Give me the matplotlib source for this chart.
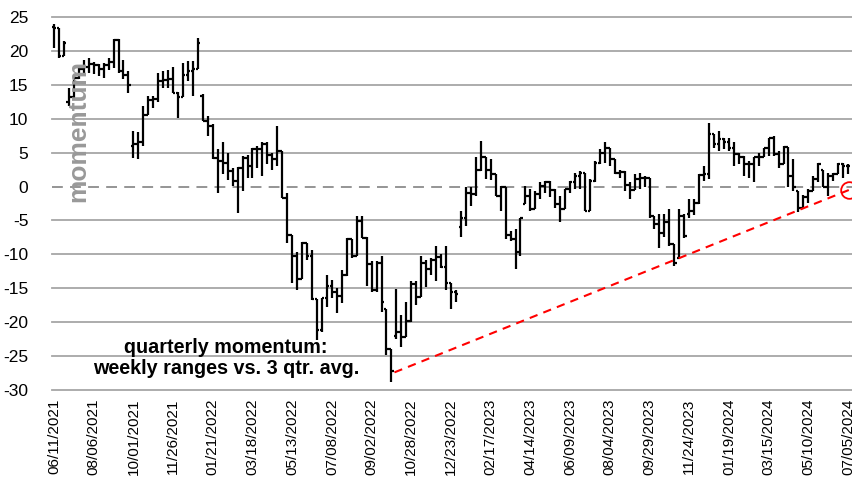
import matplotlib
matplotlib.use("Agg")
import matplotlib.pyplot as plt
import numpy as np
import pandas as pd

# weekly OHLC of quarterly momentum (from 06/11/2021)
open_ = [23.5, 23.4, 19.3, 12.5, 13.2, 16.0, 17.3, 17.7, 18.0, 17.9, 17.4, 17.9, 18.3, 21.6, 17.0, 16.4,
         6.0, 6.2, 6.5, 10.6, 12.8, 12.9, 15.5, 15.7, 15.8, 13.8, 13.2, 16.5, 17.0, 17.3,
         13.3, 9.6, 8.9, 4.2, 3.7, 3.5, 2.3, 0.8, 2.7, 4.2, 3.0, 5.6, 5.6, 6.2, 4.7, 4.0, 5.2, -1.7,
         -7.2, -10.2, -13.7, -8.3, -10.3, -16.6, -21.1, -16.5, -14.6, -15.5, -16.2, -13.0, -7.8, -10.3,
         -5.1, -7.6,
         -11.4, -15.3, -11.2, -18.0, -23.9, -22.0, -21.5, -22.2, -19.8, -14.4, -16.3, -11.2, -12.2, -10.9,
         -10.4, -11.9, -14.2, -15.6, -6.0, -4.6, -0.9, -1.1, 2.5, 4.3, 2.5, 1.8, -1.4, -0.1, -7.2, -7.7,
         -9.7, -2.5,
         -1.4, -3.3, -1.1, 0.1, 0.7, -0.5, -2.6, -3.3, -0.4, 0.6, 1.5, 2.0, -3.6, 0.8, 3.5, 5.0, 5.7, 4.0,
         2.0, 2.2, 0.3, -0.5, 1.1, 1.3, 1.3, -4.4, -5.5, -6.8, -5.3, -8.5, -10.5, -4.3, -4.0,
         -3.6, -2.4, 1.7, 1.8, 7.7, 6.2, 7.0, 6.5, 5.7, 4.8, 4.3, 3.3, 3.3, 4.3, 4.3, 5.7, 7.2, 4.8, 3.3,
         5.9, 1.6, -0.6, -3.1, -1.6, -0.6, 1.1, 2.5, 0.0, 1.6, 1.8, 3.3, 3.0]
high = [23.9, 23.4, 21.4, 14.6, 16.5, 17.8, 18.6, 19.0, 18.3, 18.0, 18.2, 18.9, 21.7, 21.7, 18.7, 17.0,
        8.2, 8.0, 11.9, 13.3, 13.4, 16.8, 17.0, 17.2, 17.7, 14.0, 18.2, 18.5, 18.5, 21.9,
        13.6, 10.4, 9.2, 5.5, 6.5, 5.0, 2.8, 2.9, 4.5, 4.6, 5.7, 6.0, 6.6, 6.6, 5.0, 8.9, 5.2, -0.9,
        -7.2, -9.6, -8.2, -8.3, -9.3, -16.6, -16.5, -13.0, -13.8, -15.0, -12.3, -7.6, -7.8, -4.4,
        -4.4, -7.5,
        -11.0, -11.0, -10.2, -18.0, -23.9, -15.1, -19.0, -17.0, -13.9, -14.0, -10.2, -10.8, -10.5, -8.7,
        -10.0, -8.7, -14.2, -15.2, -3.6, -0.1, -0.1, 4.3, 6.7, 4.3, 4.0, 1.8, 0.1, -0.1, -6.5, -6.3,
        -4.6, 0.1,
        -0.4, -0.6, 0.6, 0.8, 0.8, -0.4, -1.4, -0.4, 0.8, 2.0, 2.3, 2.0, 1.1, 3.8, 5.5, 6.5, 5.7, 4.0,
        2.5, 2.3, 0.6, 1.8, 2.0, 1.6, 1.3, -4.3, -4.0, -4.0, -3.3, -8.5, -3.3, -4.0, -1.9,
        -1.9, 1.8, 3.0, 9.4, 7.7, 8.2, 7.2, 7.2, 6.5, 5.0, 4.5, 3.8, 4.3, 5.0, 5.7, 7.2, 7.4, 5.2, 6.0,
        5.9, 4.0, -0.6, -1.3, -0.4, 1.6, 3.5, 2.5, 2.0, 2.0, 3.5, 3.5, 3.3]
low = [20.4, 19.0, 19.2, 11.9, 12.8, 15.8, 16.5, 16.8, 16.6, 16.3, 16.0, 17.2, 17.5, 16.8, 15.8, 13.8,
       4.2, 4.0, 6.0, 10.6, 11.6, 12.5, 14.6, 14.6, 13.8, 10.1, 13.2, 15.5, 13.3, 17.3,
       9.6, 7.4, 4.0, -0.9, 1.8, 1.0, 0.05, -3.9, -0.7, 1.2, 1.3, 2.8, 1.5, 3.3, 2.5, 3.0, -1.7, -8.3,
       -14.2, -15.2, -13.7, -10.8, -16.7, -22.6, -21.4, -17.7, -16.5, -18.7, -17.2, -13.2, -10.5, -10.3,
       -7.6, -14.6,
       -15.6, -15.6, -18.5, -24.9, -28.8, -22.5, -23.7, -22.2, -20.0, -17.5, -16.3, -14.8, -13.0, -13.9,
       -12.0, -15.3, -18.0, -17.0, -7.5, -5.8, -2.8, -1.4, 2.3, 1.1, 0.9, -1.4, -3.6, -7.7, -8.0, -12.2,
       -10.2, -2.6,
       -3.6, -3.3, -1.9, -0.9, -1.6, -3.1, -5.3, -3.3, -0.9, -0.4, -0.4, -3.6, -3.6, 0.6, 3.3, 3.5, 3.0,
       1.8, 1.3, -0.6, -1.9, -0.5, -0.4, -0.1, -4.6, -6.3, -9.0, -7.5, -8.7, -11.7, -10.7, -7.6, -4.6,
       -4.2, -2.6, 0.8, 1.1, 5.7, 5.2, 5.5, 5.3, 3.0, 3.3, 1.6, 1.3, 0.6, 3.0, 4.3, 4.5, 4.5, 2.8, 3.3,
       0.0, -0.6, -3.8, -3.1, -2.4, -0.6, 0.6, 0.0, -1.4, 0.8, 1.8, 1.3, 1.8]
close = [23.4, 19.3, 21.1, 13.2, 16.0, 17.3, 17.7, 18.0, 17.9, 17.4, 17.9, 18.3, 21.6, 17.0, 16.4, 15.0,
         6.2, 6.5, 10.6, 12.8, 12.9, 15.5, 15.7, 15.8, 13.8, 13.2, 16.5, 17.0, 17.3, 21.2,
         9.6, 8.9, 4.2, 3.7, 3.5, 2.3, 0.8, 2.7, 4.2, 3.0, 5.6, 5.6, 6.2, 4.7, 4.0, 5.2, -1.7, -7.2,
         -10.2, -13.7, -8.3, -10.3, -16.6, -21.1, -16.5, -14.6, -15.5, -16.2, -13.0, -7.8, -10.3, -5.1,
         -7.6, -11.4,
         -15.3, -11.2, -17.0, -23.9, -27.2, -21.5, -22.2, -19.8, -14.4, -16.3, -11.2, -12.2, -10.9, -10.4,
         -11.9, -14.2, -15.6, -15.8, -4.6, -0.9, -1.1, 2.5, 4.3, 2.5, 1.8, -1.4, -0.1, -7.2, -7.7, -9.7,
         -4.7, -1.4,
         -3.3, -1.1, 0.1, 0.7, -0.5, -2.6, -3.3, -0.4, 0.6, 1.5, 2.0, -3.6, 0.8, 3.5, 5.0, 5.7, 4.0, 2.0,
         2.2, 0.3, -0.5, 1.1, 1.3, 1.3, -4.4, -5.5, -6.8, -5.3, -8.5, -11.2, -4.3, -7.3, -3.6,
         -2.4, 1.7, 1.8, 7.7, 6.2, 7.0, 6.5, 5.7, 4.8, 4.3, 3.3, 3.3, 4.3, 4.3, 5.7, 7.2, 4.8, 3.3, 5.9,
         1.6, 0.0, -3.1, -1.6, -0.6, 1.1, 3.3, 0.0, 1.6, 1.8, 3.3, 3.0, 3.1]

start_date = "2021-06-11"
label_every = 8

# trend line (week index, value)
trend_x = [68.6, 160.2]
trend_y = [-27.4, -0.5]

n = len(close)
dates = pd.date_range(start_date, periods=n, freq="7D")
x = np.arange(n)

fig = plt.figure(figsize=(8.52, 4.8), dpi=100)
ax = fig.add_axes([52 / 852, 90 / 480, 800 / 852, 373 / 480])

ax.set_xlim(-0.4, 160.8)
ax.set_ylim(-30, 25)

grid_c = "#a6a6a6"
for v in range(-30, 26, 5):
    if v == 0:
        ax.axhline(v, color="#8c8c8c", lw=1.3, ls=(0, (6, 4)), zorder=1, clip_on=False)
    else:
        ax.axhline(v, color=grid_c, lw=1.3, zorder=1, clip_on=False)

lw = 1.6
ax.vlines(x, low, high, color="black", lw=lw, zorder=3)
ax.hlines(open_, x - 0.48, x, color="black", lw=lw, zorder=3)
ax.hlines(close, x, x + 0.48, color="black", lw=lw, zorder=3)

ax.plot(trend_x, trend_y, color="#ff0000", lw=1.5, ls=(0, (4, 3)), zorder=4)
ax.plot([trend_x[-1]], [trend_y[-1]], marker="o", ms=12, mfc="none",
        mec="#ff0000", mew=1.3, zorder=5, clip_on=False)

for s in ax.spines.values():
    s.set_visible(False)

tick_pos = x[::label_every]
ax.set_xticks(tick_pos)
ax.set_xticklabels([d.strftime("%m/%d/%Y") for d in dates[::label_every]],
                   rotation=90, fontsize=11, family=["Liberation Sans", "DejaVu Sans"])
ax.set_yticks(range(-30, 26, 5))
ax.set_yticklabels([str(v) for v in range(-30, 26, 5)], fontsize=12.5,
                   family=["Liberation Sans Narrow", "Liberation Sans", "DejaVu Sans"])
ax.tick_params(axis="both", length=0)
ax.tick_params(axis="y", pad=17)
ax.tick_params(axis="x", pad=6)

fig.text(78 / 852, 1 - 131 / 480, "momentum", rotation=90, fontsize=19,
         fontweight="bold", color="#999999", ha="center", va="center",
         family=["Liberation Sans", "DejaVu Sans"], zorder=10)

fig.text(226 / 852, 1 - 358 / 480, "quarterly momentum:\nweekly ranges vs. 3 qtr. avg.",
         fontsize=14.2, fontweight="bold", color="black", ha="center", va="center",
         linespacing=1.1, family=["Liberation Sans", "DejaVu Sans"], zorder=10)

fig.savefig("out.png", dpi=100)
